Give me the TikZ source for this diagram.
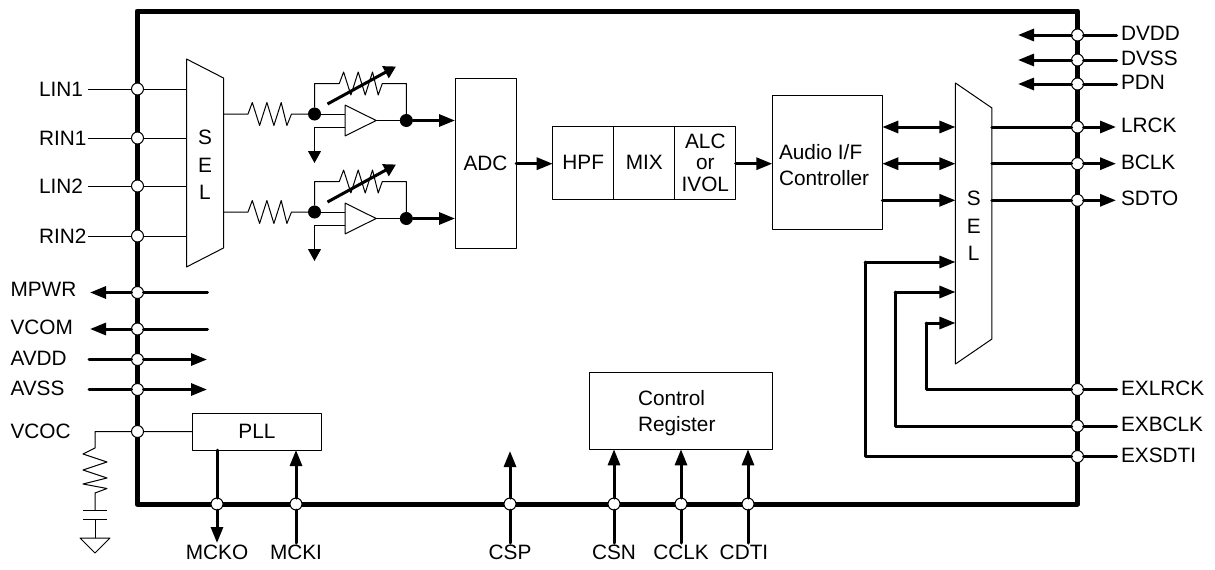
\documentclass[tikz,border=0pt]{standalone}
\usepackage{fontspec}
\setmainfont{Liberation Sans}
\usetikzlibrary{arrows.meta,calc}

\tikzset{
  thinline/.style={line width=1pt},
  busline/.style={line width=3pt,line cap=round},
  framed/.style={draw,line width=1pt,inner sep=0pt,outer sep=0pt,align=center},
  hidden/.style={inner sep=0pt,outer sep=0pt,align=center},
  pin/.style={circle,draw,fill=white,line width=1pt,inner sep=0pt,outer sep=0pt,minimum size=12pt},
  dot/.style={circle,fill=black,inner sep=0pt,outer sep=0pt,minimum size=13pt},
  pinlabel/.style={inner sep=0pt,outer sep=0pt,anchor=west},
  botlabel/.style={inner sep=0pt,outer sep=0pt},
  tip/.style={-{Triangle[length=16pt,width=12pt]}},
  duo/.style={{Triangle[length=16pt,width=12pt]}-{Triangle[length=16pt,width=12pt]}},
  hzig/.style={to path={-- ++(4.3,-11.5) -- ++(7.3,23) -- ++(7.3,-23) -- ++(7,23) -- ++(7.3,-23) -- ++(5.7,23) -- (\tikztotarget)}},
  vzig/.style={to path={-- ++(-12,6) -- ++(24,8) -- ++(-24,8) -- ++(24,8) -- ++(-24,6) -- ++(24,4.5) -- (\tikztotarget)}},
}

\begin{document}
\begin{tikzpicture}[x=1pt,y=-1pt,line join=round,font=\fontsize{20.8}{26}\selectfont]
\useasboundingbox (0,0) rectangle (1215,570);

\draw[line width=5pt] (137,11) rectangle (1077.5,504);

% blocks
\node[hidden,minimum width=37pt,minimum height=208pt] (sel1) at (205,163) {};
\node[hidden] (sel1-txt) at ([yshift=-2pt]sel1.center) {S\\[1.5pt]E\\[1.5pt]L};
\draw[thinline] (sel1.north west) -- ([yshift=-19pt]sel1.north east) -- ([yshift=19pt]sel1.south east) -- (sel1.south west) -- cycle;

\node[hidden,minimum width=36.5pt,minimum height=281pt] (sel2) at (973.7,223.5) {};
\node[hidden] (sel2-txt) at ([yshift=-2.5pt]sel2.center) {S\\[1.5pt]E\\[1.5pt]L};
\draw[thinline] (sel2.north west) -- ([yshift=-25pt]sel2.north east) -- ([yshift=25pt]sel2.south east) -- (sel2.south west) -- cycle;

\node[framed,minimum width=61pt,minimum height=170pt] (adc) at (485.5,163) {ADC};
\node[framed,minimum width=61pt,minimum height=73pt] (hpf) at (583.2,162.7) {HPF};
\node[framed,minimum width=61.3pt,minimum height=73pt] (mix) at (644.3,162.7) {MIX};
\node[framed,minimum width=60.7pt,minimum height=73pt] (alc) at (705.3,162.7) {ALC\\[-4.5pt]or\\[-4.5pt]IVOL};
\node[framed,minimum width=110pt,minimum height=133.3pt] (aif) at (827.3,162.4) {};
\node[hidden,align=left,anchor=west] (aif-txt) at (779,165) {Audio I/F\\Controller};
\node[framed,minimum width=129pt,minimum height=37pt] (pll) at (257,431.5) {PLL};
\node[framed,minimum width=183pt,minimum height=77pt] (ctrl) at (680.7,410.8) {};
\node[hidden,align=left,anchor=west] (ctrl-txt) at (638,413) {Control\\Register};

% amplifier stages
\foreach \c/\y in {a/114,b/212} {
  \node[dot] (in\c) at (314.5,\y) {};
  \node[dot] (out\c) at (406.3,\y+6.5) {};
  \node[hidden,minimum width=31pt,minimum height=30.7pt] (amp\c) at (360.7,\y+6.5) {};
  \draw[thinline] (amp\c.north west) -- (amp\c.east) -- (amp\c.south west) -- cycle;
  \coordinate (rl\c) at (248,\y);
  \coordinate (rr\c) at (291.5,\y);
  \coordinate (fl\c) at (339.3,\y-30.5);
  \coordinate (fr\c) at (382.3,\y-30.5);
  \coordinate (gnd\c) at (314.5,\y+49);
  \coordinate (vs\c) at (327.5,\y-10);
  \coordinate (ve\c) at (396,\y-47.5);
  \draw[thinline] (sel1.east |- in\c) -- (rl\c) to[hzig] (rr\c) -- (in\c);
  \draw[thinline] (in\c) -- (in\c -| amp\c.west);
  \draw[thinline] (in\c) |- (fl\c) to[hzig] (fr\c) -| (out\c);
  \draw[thinline] (amp\c.east) -- (out\c);
  \draw[thinline,-{Triangle[length=12pt,width=13pt]}] (amp\c.west |- 0,\y+13) -| (gnd\c);
  \draw[line width=3pt,-{Triangle[length=12pt,width=13pt]}] (vs\c) -- (ve\c);
  \draw[busline,tip] (out\c) -- (out\c -| adc.west);
}

% left pins
\foreach \n/\t/\y in {lin1/LIN1/89,rin1/RIN1/138,lin2/LIN2/186,rin2/RIN2/236} {
  \node[pin] (\n) at (137.5,\y) {};
  \node[pinlabel] (\n-lab) at (39,\y) {\t};
  \coordinate (\n-end) at (88,\y);
  \draw[thinline] (\n-end) -- (\n) -- (\n -| sel1.west);
}
\foreach \n/\t/\y/\l in {mpwr/MPWR/292.5/289.5,vcom/VCOM/329/327} {
  \node[pin] (\n) at (137.5,\y) {};
  \node[pinlabel] (\n-lab) at (10.5,\l) {\t};
  \coordinate (\n-a) at (90,\y);
  \coordinate (\n-b) at (207.5,\y);
  \draw[busline,tip] (\n-b) -- (\n) -- (\n-a);
}
\foreach \n/\t/\y/\l in {avdd/AVDD/359.5/358,avss/AVSS/389.5/388} {
  \node[pin] (\n) at (137.5,\y) {};
  \node[pinlabel] (\n-lab) at (10.5,\l) {\t};
  \coordinate (\n-a) at (89,\y);
  \coordinate (\n-b) at (207,\y);
  \draw[busline,tip] (\n-a) -- (\n) -- (\n-b);
}

% right pins
\foreach \n/\t/\y in {dvdd/DVDD/35,dvss/DVSS/60,pdn/PDN/84} {
  \node[pin] (\n) at (1077.5,\y) {};
  \node[pinlabel,yshift=1.5pt] (\n-lab) at (1121,\y) {\t};
  \coordinate (\n-a) at (1116.5,\y);
  \coordinate (\n-b) at (1018,\y);
  \draw[busline,tip] (\n-a) -- (\n) -- (\n-b);
}
\foreach \n/\t/\y in {lrck/LRCK/127,bclk/BCLK/163.7,sdto/SDTO/200.3} {
  \node[pin] (\n) at (1077.5,\y) {};
  \node[pinlabel,yshift=1.5pt] (\n-lab) at (1121,\y) {\t};
  \coordinate (\n-b) at (1116,\y);
  \draw[busline,tip] (\n -| sel2.east) -- (\n) -- (\n-b);
}
\draw[busline,duo] (aif.east |- lrck) -- (sel2.west |- lrck);
\draw[busline,duo] (aif.east |- bclk) -- (sel2.west |- bclk);
\draw[busline,tip] (aif.east |- sdto) -- (sel2.west |- sdto);

\foreach \n/\t/\y/\x/\k in {exlrck/EXLRCK/389.5/926/323,exbclk/EXBCLK/426/895/292,exsdti/EXSDTI/456.5/865/262} {
  \node[pin] (\n) at (1077.5,\y) {};
  \node[pinlabel,yshift=1.5pt] (\n-lab) at (1121,\y) {\t};
  \coordinate (\n-a) at (1116.5,\y);
  \coordinate (\n-c) at (\x,\k);
  \draw[busline] (\n-a) -- (\n) -| (\n-c);
  \draw[busline,tip] (\n-c) -- (\n-c -| sel2.west);
}

% signal path
\draw[busline,tip] (adc.east |- bclk) -- (hpf.west |- bclk);
\draw[busline,tip] (alc.east |- bclk) -- (aif.west |- bclk);

% bottom pins
\foreach \n/\t/\x/\l in {mcki/MCKI/296/296,csp/CSP/510/510,csn/CSN/614/614,cclk/CCLK/681/681,cdti/CDTI/748/744} {
  \node[pin] (\n) at (\x,504) {};
  \node[botlabel] (\n-lab) at (\l,552.5) {\t};
  \coordinate (\n-a) at (\x,543);
}
\node[pin] (mcko) at (217,504) {};
\node[botlabel] (mcko-lab) at (217,552.5) {MCKO};
\coordinate (mcko-a) at (217,543);
\coordinate (csp-b) at (510,451);

\draw[busline,tip] (mcko |- pll.south) -- (mcko) -- (mcko-a);
\draw[busline,tip] (mcki-a) -- (mcki) -- (mcki |- pll.south);
\draw[busline,tip] (csp-a) -- (csp) -- (csp-b);
\draw[busline,tip] (csn-a) -- (csn) -- (csn |- ctrl.south);
\draw[busline,tip] (cclk-a) -- (cclk) -- (cclk |- ctrl.south);
\draw[busline,tip] (cdti-a) -- (cdti) -- (cdti |- ctrl.south);

% vcoc
\node[pin] (vcoc) at (137.5,431.5) {};
\node[pinlabel] (vcoc-lab) at (10.5,431) {VCOC};
\coordinate (rt) at (95,431.5);
\coordinate (rm) at (95,448);
\coordinate (rb) at (95,493);
\coordinate (ct) at (95,510.5);
\coordinate (cb) at (95,519.5);
\coordinate (gt) at (95,538);
\draw[thinline] (pll.west |- vcoc) -- (vcoc) -- (rt) -- (rm) to[vzig] (rb) -- (ct);
\draw[thinline] ([xshift=-12pt]ct) -- ([xshift=12pt]ct);
\draw[thinline] ([xshift=-12pt]cb) -- ([xshift=12pt]cb);
\draw[thinline] (cb) -- (gt);
\draw[thinline] ([xshift=-15pt]gt) -- ([xshift=15pt]gt) -- ([yshift=-15pt]gt) -- cycle;
\end{tikzpicture}
\end{document}
